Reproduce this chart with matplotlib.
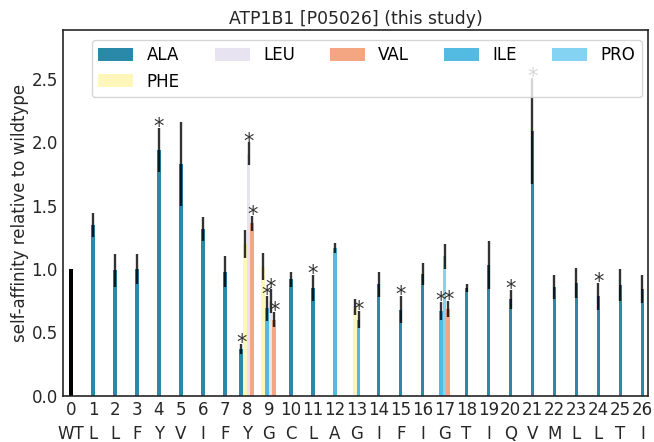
import numpy as np
import matplotlib
matplotlib.use('Agg')
import matplotlib.pyplot as plt

# residue index and wildtype letter along the x axis
positions = list(range(27))
residues = ['WT', 'L', 'L', 'F', 'Y', 'V', 'I', 'F', 'Y', 'G', 'C', 'L', 'A', 'G',
            'I', 'F', 'I', 'G', 'T', 'I', 'Q', 'V', 'M', 'L', 'L', 'T', 'I']

# one entry per substitution (several per position possible)
sub_pos = [1, 2, 3, 4, 5, 6, 7,
           8, 8, 8, 8,
           9, 9, 9, 9,
           10, 11, 12,
           13, 13,
           14, 15, 16,
           17, 17, 17,
           18, 19, 20, 21, 22, 23, 24, 25, 26]
sub_aa = ['ALA', 'ALA', 'ALA', 'ALA', 'ALA', 'ALA', 'ALA',
          'ALA', 'PHE', 'LEU', 'VAL',
          'PHE', 'ILE', 'LEU', 'VAL',
          'ALA', 'ALA', 'ILE',
          'PHE', 'ILE',
          'ALA', 'ALA', 'ALA',
          'ILE', 'PRO', 'VAL',
          'ALA', 'ALA', 'ALA', 'ALA', 'ALA', 'ALA', 'ALA', 'ALA', 'ALA']
sub_val = [1.35, 0.99, 1.00, 1.94, 1.83, 1.32, 0.98,
           0.37, 1.20, 1.91, 1.36,
           1.02, 0.69, 0.75, 0.60,
           0.92, 0.85, 1.165,
           0.70, 0.60,
           0.88, 0.68, 0.96,
           0.67, 1.10, 0.685,
           0.85, 1.03, 0.76, 2.09, 0.86, 0.89, 0.785, 0.875, 0.84]
sub_err = [0.095, 0.13, 0.12, 0.175, 0.33, 0.095, 0.12,
           0.04, 0.11, 0.09, 0.06,
           0.105, 0.10, 0.095, 0.06,
           0.06, 0.10, 0.042,
           0.065, 0.065,
           0.10, 0.108, 0.086,
           0.07, 0.10, 0.063,
           0.03, 0.19, 0.073, 0.42, 0.093, 0.12, 0.108, 0.124, 0.11]
sub_sig = [0, 0, 0, 1, 0, 0, 0,
           1, 0, 1, 1,
           0, 1, 1, 1,
           0, 1, 0,
           0, 1,
           0, 1, 0,
           1, 0, 1,
           0, 0, 1, 1, 0, 0, 1, 0, 0]

wt_val = 1.0

aa_order = ['ALA', 'LEU', 'VAL', 'ILE', 'PRO', 'PHE']
aa_colors = {'ALA': '#2a88a9', 'LEU': '#e8e3f0', 'VAL': '#f4a582',
             'ILE': '#53bbe1', 'PRO': '#84d3f2', 'PHE': '#fff6b9'}

width = 1 / 6

fig = plt.figure(figsize=(6.54, 4.42), dpi=100)
ax = fig.add_axes([0.0968, 0.105, 0.8945, 0.826])

# wildtype reference bar
ax.bar(0, wt_val, width=width, color='black', zorder=2)

# offsets so that bars at one position sit side by side, centred on the tick
sub_pos = np.array(sub_pos)
xs = np.zeros(len(sub_pos))
for p in np.unique(sub_pos):
    idx = np.where(sub_pos == p)[0]
    n = len(idx)
    for k, i in enumerate(idx):
        xs[i] = p + (k - (n - 1) / 2) * width

handles = {}
for aa in aa_order:
    sel = [i for i in range(len(sub_aa)) if sub_aa[i] == aa]
    handles[aa] = ax.bar(xs[sel], np.array(sub_val)[sel], width=width,
                         color=aa_colors[aa], label=aa, zorder=2)

ax.errorbar(xs, sub_val, yerr=sub_err, fmt='none', ecolor='black', alpha=0.8,
            elinewidth=1.7, capsize=0, zorder=3)

for i in range(len(xs)):
    if sub_sig[i]:
        ax.annotate('*', (xs[i], sub_val[i] + sub_err[i]), xytext=(0, -6.5),
                    textcoords='offset points', ha='center', va='bottom',
                    fontsize=15, color='#333333', zorder=4)

ax.set_xlim(-0.35, 26.27)
ax.set_ylim(0, 2.885)
ax.set_xticks(positions)
ax.set_xticklabels(['%d\n%s' % (p, r) for p, r in zip(positions, residues)],
                   fontsize=12, linespacing=1.45)
ax.set_yticks([0, 0.5, 1.0, 1.5, 2.0, 2.5])
ax.tick_params(axis='both', length=0, labelsize=12, colors='#262626', pad=4)
ax.set_ylabel('self-affinity relative to wildtype', fontsize=12, color='#262626',
              labelpad=2)
ax.set_title('ATP1B1 [P05026] (this study)', fontsize=12.4, color='#262626', pad=5)
for s in ax.spines.values():
    s.set_color('#262626')
    s.set_linewidth(1.2)

# legend fills column by column, so order handles to read row by row
leg_order = ['ALA', 'PHE', 'LEU', 'VAL', 'ILE', 'PRO']
leg = ax.legend([handles[a] for a in leg_order], leg_order,
                loc='upper center', ncol=5, fontsize=12, frameon=True,
                handlelength=2.1, handleheight=0.8, handletextpad=0.8,
                columnspacing=2.1, bbox_to_anchor=(0.5186, 0.975),
                borderaxespad=0)
leg.get_frame().set_edgecolor('#cccccc')
leg.set_zorder(5)

fig.savefig('out.png', dpi=100)
